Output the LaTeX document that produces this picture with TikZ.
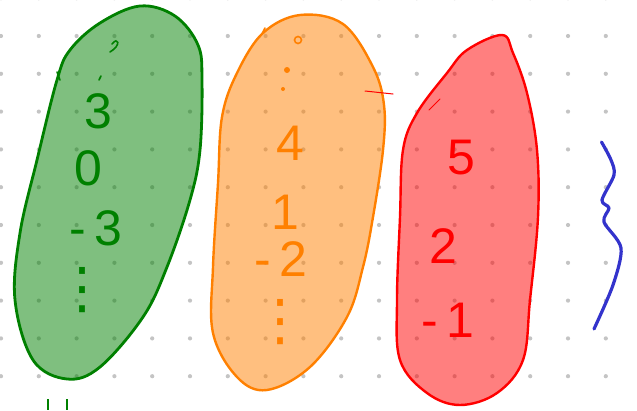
\documentclass[tikz,border=0pt]{standalone}
\usepackage{fontspec}
\setmainfont{Liberation Sans}
\newfontfamily\dvfont{DejaVu Sans}
\definecolor{gline}{HTML}{008000}
\definecolor{oline}{HTML}{FF8000}
\definecolor{rline}{HTML}{FF0000}
\definecolor{bline}{HTML}{3333CC}
\definecolor{griddot}{HTML}{C4C4C4}
\begin{document}
\begin{tikzpicture}[x=1pt,y=-1pt,
  blob/.style={line width=2.8pt, fill opacity=0.5, line join=round},
  digit/.style={inner sep=0pt, font=\fontsize{50}{50}\selectfont},
  vdotsnode/.style={inner sep=0pt, font=\dvfont\fontsize{56}{56}\selectfont},
  penstroke/.style={line width=1.6pt, line cap=round}]
\useasboundingbox (0,0) rectangle (637,410);
\fill[white] (0,0) rectangle (637,410);
% dot grid
\foreach \i in {0,...,16}{
  \foreach \j in {0,...,10}{
    \fill[griddot] ({1+37.8*\i},{-1.8+37.8*\j}) circle (2.1pt);
  }
}
% green blob
\draw[blob, draw=gline, fill=gline] plot[smooth cycle, tension=0.6] coordinates {
  (140,6) (175,16) (198,45) (202,80) (200,150) (190,200) (167,267) (143,317)
  (100,367) (67,379) (33,360) (15,300) (20,233) (37,160) (57,80) (70,50) (100,23)};
\draw[penstroke, gline] (57,72) -- (60,80);
% orange blob
\draw[blob, draw=oline, fill=oline, line width=2.4pt] plot[smooth cycle, tension=0.6] coordinates {
  (300,15) (343,24) (373,67) (384,105) (383,150) (373,217) (363,267) (347,317)
  (310,367) (267,390) (237,377) (213,333) (213,267) (218,183) (222,117) (237,73) (263,33)};
\draw[penstroke, oline] (265,28) -- (262,34);
% red blob
\draw[blob, draw=rline, fill=rline, line width=2.4pt] plot[smooth cycle, tension=0.6] coordinates {
  (502,35) (513,53) (527,93) (537,150) (538,217) (530,300) (523,360) (497,393)
  (460,405) (427,393) (400,360) (397,300) (400,217) (403,150) (417,113) (447,73) (467,50)};
\draw[penstroke, rline, line width=1pt] (365,91) -- (393,94);
\draw[penstroke, rline, line width=1pt] (429,110) -- (440,99);
% blue brace
\draw[bline, line width=3.2pt, line cap=round, line join=round] plot[smooth, tension=0.5] coordinates {
  (601.5,142) (611,160) (614,175) (602,200) (609,208) (604,222) (621,248) (613,285) (594,329)};
% green texts
\node[digit, gline] (g3) at (98,111) {3};
\node[digit, gline] (g0) at (88,168) {0};
\node[digit, gline] (gm3) at (96,228) {-\,3};
\node[vdotsnode, gline] (gdots) at (82,290) {⋮};
\draw[penstroke, gline] (112,44) .. controls (118,36) and (122,45) .. (110,52);
\draw[penstroke, gline] (101,76) -- (99,80);
% orange texts
\node[digit, oline] (o4) at (290,143) {4};
\node[digit, oline] (o1) at (285,212) {1};
\node[digit, oline] (om2) at (281,259) {-\,2};
\node[vdotsnode, oline] (odots) at (280,322) {⋮};
\draw[oline, line width=1.6pt] (298,40) circle (3.5pt);
\fill[oline] (287,70) circle (3pt);
\fill[oline] (283,89) circle (2pt);
% red texts
\node[digit, rline] (r5) at (461,158) {5};
\node[digit, rline] (r2) at (443,246) {2};
\node[digit, rline] (rm1) at (448,320) {-\,1};
% bottom marks
\draw[gline, line width=2pt] (48,399) -- (48,410);
\draw[gline, line width=2pt] (67,399) -- (67,410);
\end{tikzpicture}
\end{document}
